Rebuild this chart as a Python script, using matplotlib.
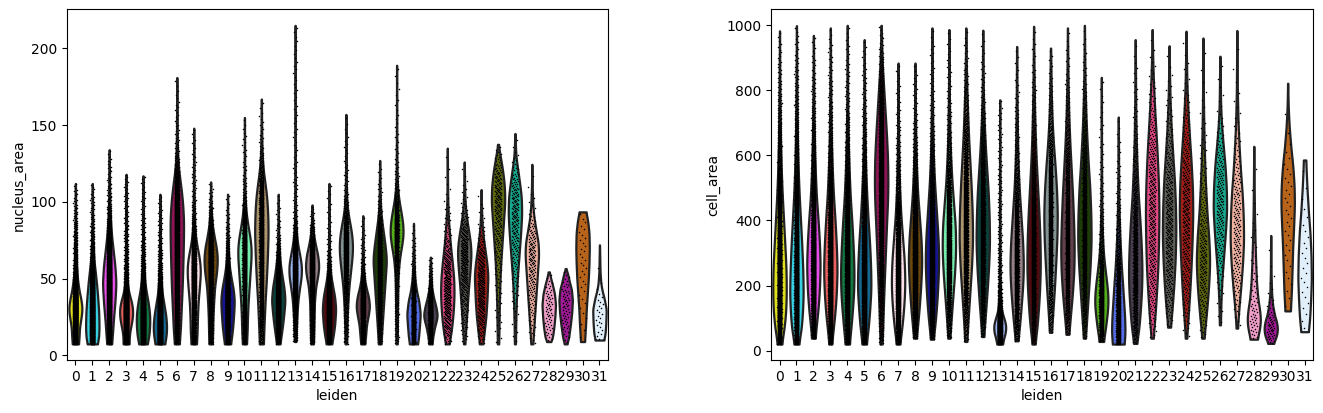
import numpy as np
import matplotlib
matplotlib.use("Agg")
import matplotlib.pyplot as plt
import colorsys
from matplotlib.colors import to_rgb

categories = [str(i) for i in range(32)]

palette = ["#FFFF00", "#1CE6FF", "#FF34FF", "#FF4A46", "#008941", "#006FA6", "#A30059",
           "#FFDBE5", "#7A4900", "#0000A6", "#63FFAC", "#B79762", "#004D43", "#8FB0FF",
           "#997D87", "#5A0007", "#809693", "#6A3A4C", "#1B4400", "#4FC601", "#3B5DFF",
           "#4A3B53", "#FF2F80", "#61615A", "#BA0900", "#6B7900", "#00C2A0", "#FFAA92",
           "#FF90C9", "#B903AA", "#D16100", "#DDEFFF"]

# approximate number of cells per cluster (for the strip dots)
counts = [2400, 2300, 2200, 2100, 2000, 1900, 1800, 1700, 1600, 1500, 1400, 1300, 1250,
          1200, 1100, 1000, 950, 900, 850, 800, 750, 700, 380, 350, 320, 230, 210, 180,
          60, 60, 35, 25]

# violin profiles: (value, relative width) knots
nucleus_area = [
    [(7.5,.45),(12,.55),(18,.6),(25,.85),(30,1),(36,.85),(42,.55),(50,.3),(58,.15),(70,.07),(90,.03),(112,.01)],
    [(7.5,.7),(10,.9),(18,1),(28,.95),(38,.8),(48,.6),(56,.4),(63,.22),(72,.1),(85,.05),(100,.03),(112,.01)],
    [(7.5,.35),(12,.45),(22,.6),(35,.85),(47,1),(58,.85),(68,.6),(78,.35),(88,.18),(100,.08),(115,.04),(134,.01)],
    [(7.5,.45),(12,.45),(17,.6),(22,.85),(28,1),(34,.85),(40,.45),(46,.2),(55,.1),(70,.05),(90,.03),(118,.01)],
    [(7.5,.6),(12,.85),(20,1),(27,.98),(35,.75),(42,.45),(50,.22),(60,.1),(75,.05),(95,.03),(117,.01)],
    [(7.5,.7),(12,.9),(18,1),(25,.9),(32,.65),(40,.35),(48,.18),(58,.08),(75,.04),(105,.01)],
    [(7.5,.35),(15,.5),(30,.65),(45,.8),(60,.9),(75,.98),(88,1),(100,.85),(110,.6),(120,.3),(130,.12),(145,.05),(160,.03),(181,.01)],
    [(7.5,.4),(15,.5),(25,.55),(35,.65),(45,.85),(55,1),(63,.85),(72,.45),(80,.2),(90,.1),(105,.05),(125,.03),(148,.01)],
    [(7.5,.25),(15,.3),(25,.35),(35,.45),(45,.6),(55,.9),(63,1),(70,.85),(78,.5),(85,.25),(92,.12),(100,.05),(113,.01)],
    [(7.5,.45),(12,.6),(20,.8),(30,.95),(36,1),(43,.85),(50,.55),(57,.3),(65,.15),(75,.07),(90,.03),(105,.01)],
    [(7.5,.3),(15,.4),(25,.45),(35,.55),(45,.7),(55,.85),(65,1),(73,.95),(80,.7),(88,.4),(95,.2),(105,.08),(120,.04),(155,.01)],
    [(7.5,.3),(20,.4),(35,.55),(50,.75),(65,.9),(80,1),(92,.95),(103,.8),(112,.55),(120,.3),(130,.12),(145,.05),(167,.01)],
    [(7.5,.25),(12,.4),(20,.65),(28,.85),(36,1),(44,.85),(52,.55),(60,.3),(68,.15),(78,.06),(90,.03),(105,.01)],
    [(9,.12),(20,.2),(30,.3),(40,.5),(48,.8),(55,1),(62,.85),(70,.45),(78,.2),(88,.08),(100,.04),(130,.02),(215,.01)],
    [(7.5,.2),(15,.25),(25,.3),(35,.35),(45,.55),(52,.85),(58,1),(65,.85),(72,.5),(78,.25),(85,.1),(98,.01)],
    [(7.5,.4),(12,.6),(20,.85),(30,1),(38,.85),(45,.55),(52,.28),(60,.13),(70,.06),(85,.03),(112,.01)],
    [(7.5,.12),(15,.15),(25,.2),(35,.3),(45,.45),(55,.7),(63,.9),(70,1),(78,.9),(86,.6),(93,.3),(100,.15),(110,.07),(130,.03),(157,.01)],
    [(7.5,.3),(12,.4),(20,.55),(27,.85),(32,1),(38,.85),(44,.5),(50,.25),(58,.1),(70,.05),(91,.01)],
    [(7.5,.2),(15,.3),(25,.45),(35,.6),(45,.75),(55,.9),(62,1),(70,.85),(80,.55),(88,.3),(95,.15),(105,.07),(127,.01)],
    [(7.5,.1),(20,.12),(35,.15),(50,.2),(60,.35),(68,.6),(75,.9),(82,1),(90,.8),(97,.5),(104,.25),(112,.1),(125,.05),(150,.02),(189,.01)],
    [(7.5,.6),(12,.75),(20,.9),(27,1),(35,.8),(42,.45),(50,.2),(58,.1),(70,.05),(86,.01)],
    [(7.5,.25),(12,.35),(18,.6),(24,.95),(27,1),(32,.8),(38,.45),(44,.2),(50,.1),(64,.02)],
    [(7.5,.25),(12,.45),(20,.7),(30,.9),(40,1),(50,.95),(60,.75),(70,.5),(80,.3),(90,.15),(100,.07),(115,.03),(135,.01)],
    [(7.5,.1),(15,.2),(25,.35),(35,.5),(45,.65),(55,.85),(65,1),(72,.95),(80,.7),(88,.4),(95,.2),(105,.08),(126,.01)],
    [(7.5,.25),(15,.45),(25,.7),(35,.85),(45,.95),(52,1),(60,.85),(68,.6),(76,.35),(85,.15),(95,.06),(108,.01)],
    [(7.5,.1),(20,.15),(35,.2),(50,.3),(60,.4),(70,.55),(80,.7),(90,.85),(100,1),(110,.95),(120,.7),(128,.4),(133,.2),(137.5,.05)],
    [(7.5,.08),(20,.12),(35,.2),(50,.35),(65,.6),(80,.85),(92,1),(103,.95),(112,.7),(120,.45),(127,.22),(133,.1),(144.5,.02)],
    [(7.5,.15),(15,.25),(25,.4),(35,.55),(45,.7),(55,.85),(65,1),(73,.95),(82,.6),(90,.3),(98,.15),(110,.05),(124.5,.01)],
    [(9,.3),(12,.55),(18,.75),(25,.9),(33,1),(40,.85),(46,.55),(50,.3),(54.4,.08)],
    [(7.5,.2),(12,.45),(20,.7),(28,.9),(36,1),(43,.85),(48,.55),(53,.3),(56.6,.05)],
    [(9,.3),(20,.45),(30,.55),(40,.7),(50,.85),(60,.95),(70,1),(80,.95),(88,.75),(93.5,.5)],
    [(10,.65),(15,.85),(22,.95),(30,1),(37,.7),(42,.4),(47,.2),(55,.08),(72,.01)],
]

cell_area = [
    [(20,.3),(50,.55),(100,.85),(150,.98),(200,1),(260,.95),(320,.8),(400,.6),(480,.4),(560,.25),(650,.14),(750,.08),(850,.04),(983,.01)],
    [(20,.3),(50,.6),(100,.85),(170,1),(240,.95),(320,.8),(400,.6),(480,.4),(560,.25),(650,.14),(750,.08),(880,.04),(999,.01)],
    [(38,.25),(80,.45),(130,.7),(190,.9),(260,1),(330,.9),(400,.7),(470,.45),(550,.28),(640,.15),(750,.07),(860,.04),(969,.01)],
    [(20,.2),(60,.4),(120,.7),(180,.9),(250,1),(320,.9),(400,.7),(480,.45),(560,.28),(650,.15),(750,.08),(870,.04),(992,.01)],
    [(20,.3),(60,.5),(120,.75),(180,.95),(240,1),(310,.9),(390,.7),(470,.45),(550,.28),(640,.15),(750,.07),(870,.04),(1000,.01)],
    [(20,.3),(60,.55),(120,.8),(190,1),(260,.95),(330,.8),(410,.55),(490,.35),(570,.2),(660,.12),(760,.06),(956,.01)],
    [(20,.15),(80,.25),(150,.35),(230,.5),(310,.65),(390,.8),(460,.95),(520,1),(590,.95),(660,.8),(730,.6),(800,.4),(860,.22),(920,.1),(1000,.02)],
    [(20,.25),(60,.5),(110,.75),(170,.95),(220,1),(280,.9),(350,.65),(420,.4),(500,.22),(580,.12),(680,.06),(884,.01)],
    [(38,.2),(80,.4),(140,.65),(200,.85),(270,1),(340,.9),(410,.65),(480,.4),(560,.22),(650,.11),(750,.05),(884,.01)],
    [(35,.2),(80,.45),(140,.7),(210,.9),(280,1),(350,.9),(430,.65),(510,.4),(590,.22),(680,.12),(790,.06),(992,.01)],
    [(38,.15),(100,.35),(170,.6),(240,.85),(310,1),(380,.95),(450,.7),(520,.45),(600,.25),(690,.12),(800,.06),(987,.01)],
    [(28,.15),(100,.35),(180,.6),(260,.85),(340,1),(420,.95),(500,.8),(580,.6),(660,.4),(740,.25),(820,.13),(900,.06),(992,.01)],
    [(43,.15),(100,.35),(170,.6),(250,.85),(330,1),(410,.95),(490,.8),(570,.55),(640,.35),(720,.18),(800,.08),(985,.01)],
    [(20,.35),(45,.7),(65,.95),(75,1),(90,.8),(110,.4),(135,.2),(170,.1),(230,.05),(350,.03),(771,.01)],
    [(30,.2),(70,.4),(130,.65),(200,.9),(260,1),(330,.9),(410,.65),(490,.4),(570,.22),(660,.12),(770,.06),(935,.01)],
    [(20,.2),(60,.45),(120,.7),(190,.9),(260,1),(340,.95),(420,.8),(500,.6),(580,.4),(660,.25),(750,.14),(850,.07),(997,.01)],
    [(56,.15),(120,.35),(200,.6),(280,.8),(350,.95),(420,1),(490,.9),(560,.7),(630,.45),(700,.25),(780,.12),(930,.02)],
    [(50,.2),(110,.45),(180,.75),(250,.95),(320,1),(400,.9),(480,.75),(560,.55),(640,.35),(720,.2),(820,.09),(992,.01)],
    [(38,.15),(100,.35),(180,.6),(260,.85),(340,1),(420,.95),(500,.8),(580,.55),(660,.35),(740,.2),(830,.09),(1000,.01)],
    [(28,.3),(60,.55),(100,.8),(140,.98),(160,1),(200,.85),(250,.55),(300,.3),(360,.15),(450,.07),(600,.03),(840,.01)],
    [(20,.85),(50,1),(100,.95),(150,.8),(200,.65),(260,.45),(320,.3),(380,.18),(450,.1),(550,.05),(718,.01)],
    [(22,.2),(60,.5),(120,.75),(190,.95),(250,1),(320,.9),(400,.7),(480,.45),(560,.28),(650,.15),(760,.07),(956,.01)],
    [(38,.15),(100,.4),(180,.65),(260,.85),(340,.95),(420,1),(500,.95),(580,.8),(660,.6),(740,.38),(820,.2),(900,.08),(987,.01)],
    [(72,.2),(130,.45),(200,.7),(280,.9),(360,1),(440,.95),(520,.8),(600,.55),(680,.32),(760,.16),(840,.07),(937,.01)],
    [(38,.1),(100,.3),(180,.55),(260,.75),(340,.9),(420,1),(500,.95),(580,.75),(660,.5),(740,.28),(820,.13),(900,.06),(982,.01)],
    [(38,.15),(90,.4),(160,.7),(220,.9),(280,1),(350,.85),(420,.6),(500,.4),(580,.25),(660,.15),(760,.07),(961,.01)],
    [(79,.08),(150,.15),(220,.3),(290,.55),(360,.8),(430,1),(500,.95),(570,.75),(640,.45),(700,.22),(760,.1),(905,.02)],
    [(69,.1),(130,.3),(200,.6),(270,.85),(340,1),(410,.95),(480,.8),(550,.55),(620,.35),(700,.18),(800,.07),(984,.01)],
    [(35,.5),(60,.8),(90,1),(120,.9),(160,.6),(210,.4),(270,.28),(340,.18),(420,.1),(520,.05),(628,.01)],
    [(22,.4),(45,.85),(65,1),(85,.9),(110,.55),(140,.28),(180,.12),(240,.05),(354,.01)],
    [(122,.4),(180,.55),(250,.65),(320,.75),(390,.9),(450,1),(510,.95),(570,.75),(630,.45),(690,.22),(750,.08),(822,.01)],
    [(58,.55),(100,.75),(160,.9),(220,1),(290,.95),(360,.8),(430,.55),(500,.35),(560,.22),(586,.18)],
]


def desaturate(c, prop=0.75):
    h, l, s = colorsys.rgb_to_hls(*to_rgb(c))
    return colorsys.hls_to_rgb(h, l, s * prop)


def profile(knots, n=300):
    ys = np.array([k[0] for k in knots], float)
    ws = np.array([k[1] for k in knots], float)
    grid = np.linspace(ys[0], ys[-1], n)
    w = np.interp(grid, ys, ws)
    k = 9
    pad = np.pad(w, k, mode="edge")
    w = np.convolve(pad, np.ones(2 * k + 1) / (2 * k + 1), mode="same")[k:-k]
    return grid, w


def draw(ax, profiles, ylabel):
    half = 0.4
    golden = 0.6180339887498949
    for i, knots in enumerate(profiles):
        grid, w = profile(knots)
        ax.fill_betweenx(grid, i - w * half, i + w * half,
                         facecolor=desaturate(palette[i]), edgecolor="#222222",
                         linewidth=1.6, zorder=2)
        n = counts[i]
        jitter = 0.12 if n >= 400 else 0.2
        cdf = np.cumsum(w)
        cdf = (cdf - cdf[0]) / (cdf[-1] - cdf[0])
        q = (np.arange(n) + 0.5) / n
        yv = np.interp(q, cdf, grid)
        frac = np.mod(np.arange(n) * golden + i * 0.37, 1.0)
        xv = i + jitter * (2 * frac - 1)
        ax.scatter(xv, yv, s=1.2, c="black", linewidths=0, zorder=3)
    ax.set_xticks(range(len(categories)))
    ax.set_xticklabels(categories)
    ax.set_xlim(-0.5, len(categories) - 0.5)
    ax.set_xlabel("leiden")
    ax.set_ylabel(ylabel)


fig = plt.figure(figsize=(13.23, 4.13), dpi=100)
ax1 = fig.add_axes([0.0506, 0.1283, 0.4089, 0.849])
ax2 = fig.add_axes([0.5828, 0.1283, 0.4097, 0.849])
draw(ax1, nucleus_area, "nucleus_area")
draw(ax2, cell_area, "cell_area")
ax1.set_ylim(-3, 225.4)
ax1.set_yticks([0, 50, 100, 150, 200])
ax2.set_ylim(-29, 1049)
ax2.set_yticks([0, 200, 400, 600, 800, 1000])
fig.savefig("out.png", dpi=100)
